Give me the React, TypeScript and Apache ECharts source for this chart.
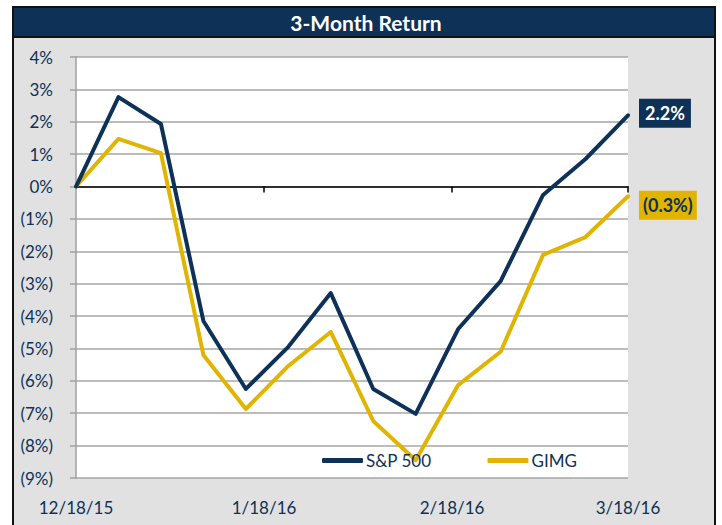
import React, { useEffect, useRef } from "react";
import * as echarts from "echarts";

const dayOffsets = [0, 7, 14, 21, 28, 35, 42, 49, 56, 63, 70, 77, 84, 91];
const sp500 = [0, 2.76, 1.93, -4.15, -6.25, -4.95, -3.29, -6.25, -7.02, -4.4, -2.92, -0.26, 0.85, 2.2];
const gimg = [0, 1.47, 1.03, -5.2, -6.87, -5.54, -4.49, -7.24, -8.45, -6.13, -5.1, -2.11, -1.56, -0.3];
const tickDays = [0, 31, 62, 91];
const tickLabels = ["12/18/15", "1/18/16", "2/18/16", "3/18/16"];
const seriesNames = ["S&P 500", "GIMG"];
const endLabels = ["2.2%", "(0.3%)"];
const title = "3-Month Return";

const NAVY = "#0e3157";
const GOLD = "#e0b400";
const FONT = "Lato, 'Open Sans', sans-serif";

export default function App() {
  const ref = useRef<HTMLDivElement>(null);
  useEffect(() => {
    document.body.style.margin = "0";
    const chart = echarts.init(ref.current!, null, { renderer: "svg" });
    const fmtY = (v: number) => (v < 0 ? `(${-v}%)` : `${v}%`);
    chart.setOption({
      animation: false,
      backgroundColor: "#ffffff",
      textStyle: { fontFamily: FONT },
      graphic: [
        {
          type: "rect",
          z: -10,
          silent: true,
          shape: { x: 13, y: 7, width: 702, height: 530 },
          style: { fill: "#e1e1e1", stroke: "#111", lineWidth: 2 },
        },
        {
          type: "rect",
          z: -9,
          silent: true,
          shape: { x: 13, y: 7, width: 702, height: 30 },
          style: { fill: NAVY, stroke: "#111", lineWidth: 2 },
        },
        {
          type: "text",
          z: 10,
          x: 366,
          y: 22.5,
          style: {
            text: title,
            fill: "#ffffff",
            font: `bold 21px ${FONT}`,
            align: "center",
            verticalAlign: "middle",
          },
        },
      ],
      grid: {
        left: 76,
        right: 94,
        top: 57,
        bottom: 47,
        show: true,
        backgroundColor: "#ffffff",
        borderWidth: 0,
      },
      legend: {
        data: seriesNames,
        left: 317,
        top: 447,
        icon: "roundRect",
        itemWidth: 41,
        itemHeight: 5,
        itemGap: 56,
        textStyle: { color: NAVY, fontSize: 17, fontFamily: FONT, padding: [0, 0, 0, -2] },
      },
      xAxis: [
        {
          type: "value",
          min: 0,
          max: 91,
          position: "bottom",
          axisLine: { show: false, onZero: false },
          axisTick: { show: false },
          splitLine: { show: false },
          axisLabel: {
            customValues: tickDays,
            margin: 21,
            color: NAVY,
            fontSize: 17,
            fontFamily: FONT,
            formatter: (v: number) => tickLabels[tickDays.indexOf(v)] ?? "",
          },
        },
        {
          type: "value",
          min: 0,
          max: 91,
          position: "bottom",
          axisLine: { show: true, onZero: true, lineStyle: { color: "#000", width: 1.5 } },
          axisTick: { show: true, customValues: tickDays.slice(1), length: 6, lineStyle: { color: "#000", width: 1.5 } },
          splitLine: { show: false },
          axisLabel: { show: false },
        },
      ],
      yAxis: {
        type: "value",
        min: -9,
        max: 4,
        interval: 1,
        axisLine: { show: true, lineStyle: { color: "#a0a0a0", width: 1.5 } },
        axisTick: { show: true, length: 6, lineStyle: { color: "#a0a0a0", width: 1.5 } },
        splitLine: { show: true, lineStyle: { color: "#a6a6a6", width: 1.5 } },
        axisLabel: {
          margin: 23,
          color: NAVY,
          fontSize: 17,
          fontFamily: FONT,
          formatter: fmtY,
        },
      },
      series: [
        {
          name: seriesNames[0],
          type: "line",
          xAxisIndex: 0,
          data: dayOffsets.map((d, i) => [d, sp500[i]]),
          showSymbol: false,
          symbol: "none",
          color: NAVY,
          lineStyle: { width: 4, color: NAVY, cap: "round", join: "round" },
          z: 3,
          endLabel: {
            show: true,
            formatter: () => endLabels[0],
            distance: 11,
            color: "#ffffff",
            backgroundColor: NAVY,
            fontWeight: "bold",
            fontSize: 18,
            fontFamily: FONT,
            padding: [6, 6, 5, 6],
            offset: [0, -2],
          },
        },
        {
          name: seriesNames[1],
          type: "line",
          xAxisIndex: 0,
          data: dayOffsets.map((d, i) => [d, gimg[i]]),
          showSymbol: false,
          symbol: "none",
          color: GOLD,
          lineStyle: { width: 4, color: GOLD, cap: "round", join: "round" },
          z: 2,
          endLabel: {
            show: true,
            formatter: () => endLabels[1],
            distance: 11,
            color: NAVY,
            backgroundColor: GOLD,
            fontWeight: "bold",
            fontSize: 18,
            fontFamily: FONT,
            padding: [6, 4, 5, 4],
            offset: [0, 9],
          },
        },
      ],
    });
    return () => chart.dispose();
  }, []);
  return <div ref={ref} style={{ width: 722, height: 525 }} />;
}
